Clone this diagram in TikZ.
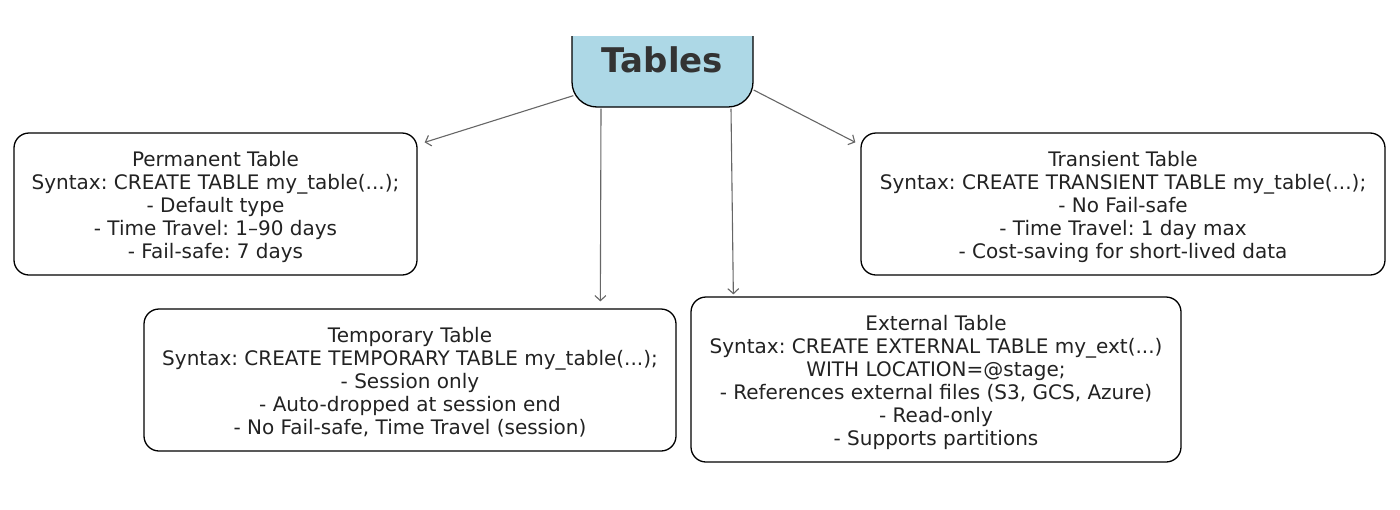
\documentclass[tikz,border=0pt]{standalone}
\usepackage{fontspec}
\setmainfont{DejaVu Sans}
\usetikzlibrary{arrows.meta,calc}
\frenchspacing
\definecolor{boxblue}{HTML}{ADD8E6}
\definecolor{txt}{HTML}{222222}
\definecolor{ttl}{HTML}{333333}
\definecolor{arrgray}{HTML}{666666}
\tikzset{
  infobox/.style={draw=black, line width=1.3pt, rounded corners=15pt, inner sep=0pt},
  infotext/.style={inner sep=0pt, align=center, text=txt, yshift=-2.5pt,
    font=\fontsize{20}{23}\selectfont\frenchspacing},
  titlebox/.style={draw=black, line width=1.3pt, rounded corners=25pt, fill=boxblue, inner sep=0pt},
  titletext/.style={text=ttl, font=\fontsize{34}{40}\selectfont\bfseries, inner sep=0pt},
  arr/.style={draw=arrgray, line width=1.1pt, -{Straight Barb[length=5pt,width=11pt]}}
}
\begin{document}
\begin{tikzpicture}[x=1pt,y=-1pt]
\useasboundingbox (0,0) rectangle (1400,509);
\begin{scope}
  \clip (0,36.5) rectangle (1400,509);
  \node[titlebox, minimum width=181pt, minimum height=107pt] (tables) at (662.5,53.5) {};
\end{scope}
\node[titletext] (tablestxt) at (662.5,60) {Tables};

\node[infobox, minimum width=403pt, minimum height=142pt,
  label={[infotext]center:{Permanent Table\\Syntax: CREATE TABLE my\_table(...);\\- Default type\\- Time Travel: 1–90 days\\- Fail-safe: 7 days}}]
  (perm) at (215.5,204) {};
\node[infobox, minimum width=524pt, minimum height=142pt,
  label={[infotext]center:{Transient Table\\Syntax: CREATE TRANSIENT TABLE my\_table(...);\\- No Fail-safe\\- Time Travel: 1 day max\\- Cost-saving for short-lived data}}]
  (trans) at (1123,204) {};
\node[infobox, minimum width=532pt, minimum height=142pt,
  label={[infotext]center:{Temporary Table\\Syntax: CREATE TEMPORARY TABLE my\_table(...);\\- Session only\\- Auto-dropped at session end\\- No Fail-safe, Time Travel (session)}}]
  (temp) at (410,380) {};
\node[infobox, minimum width=490pt, minimum height=165pt,
  label={[infotext]center:{External Table\\Syntax: CREATE EXTERNAL TABLE my\_ext(...)\\WITH LOCATION=@stage;\\- References external files (S3, GCS, Azure)\\- Read-only\\- Supports partitions}}]
  (ext) at (936,379.5) {};

\draw[arr] ($(tables.south west)+(2,-12)$) -- ($(perm.north east)+(7,10)$);
\draw[arr] ($(tables.south)+(-61.5,1)$) -- ($(temp.north west)+(457,-7)$);
\draw[arr] ($(tables.south)+(68.5,1)$) -- ($(ext.north west)+(43,-2)$);
\draw[arr] ($(tables.east)+(0,36.5)$) -- ($(trans.north west)+(-5,10)$);
\end{tikzpicture}
\end{document}
